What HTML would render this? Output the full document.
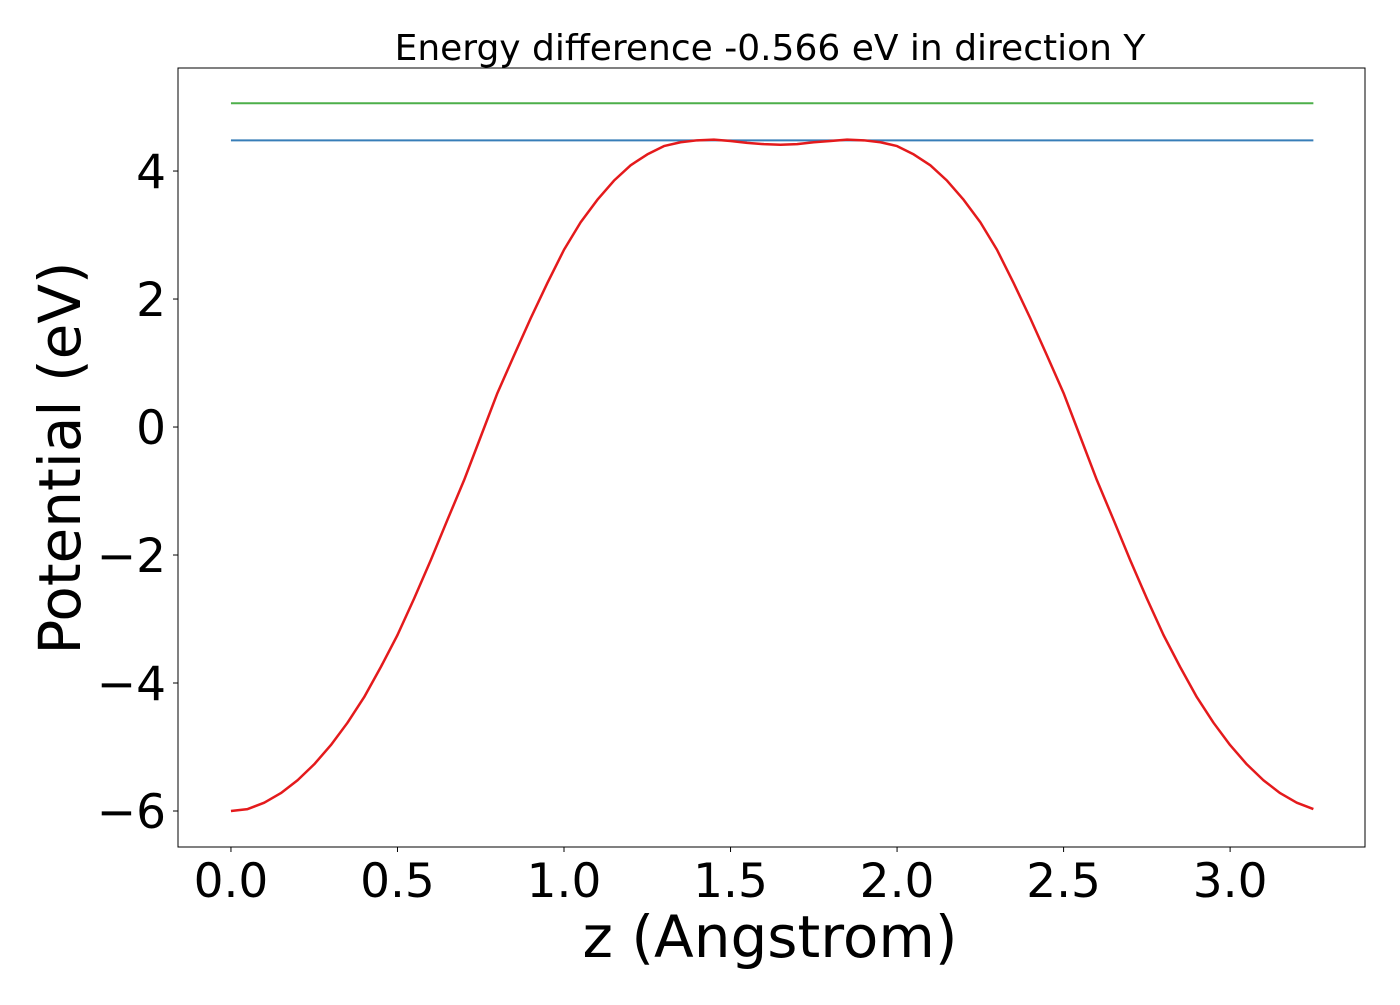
<!DOCTYPE html>
<html><head><meta charset="utf-8"><style>
html,body{margin:0;padding:0;background:#fff;}
svg text{font-family:"DejaVu Sans","Liberation Sans",sans-serif;fill:#000;}
</style></head><body>
<svg id="chart" width="1400" height="1000" xmlns="http://www.w3.org/2000/svg">
<rect x="0" y="0" width="1400" height="1000" fill="#fff"/>
<g id="marks"></g>
<g id="axes"></g>
<text x="770" y="60" font-size="36" text-anchor="middle">Energy difference -0.566 eV in direction Y</text>
<text x="770" y="957" font-size="58" text-anchor="middle">z (Angstrom)</text>
<text transform="translate(80,458) rotate(-90)" font-size="58" text-anchor="middle">Potential (eV)</text>
</svg>
<script>
const zValues = [0,0.05,0.1,0.15,0.2,0.25,0.3,0.35,0.4,0.45,0.5,0.55,0.6,0.65,0.7,0.75,0.8,0.85,0.9,0.95,1.0,1.05,1.1,1.15,1.2,1.25,1.3,1.35,1.4,1.45,1.5,1.55,1.6,1.65,1.7,1.75,1.8,1.85,1.9,1.95,2.0,2.05,2.1,2.15,2.2,2.25,2.3,2.35,2.4,2.45,2.5,2.55,2.6,2.65,2.7,2.75,2.8,2.85,2.9,2.95,3.0,3.05,3.1,3.15,3.2,3.25];
const potential = [-6.0,-5.97,-5.87,-5.72,-5.52,-5.27,-4.97,-4.62,-4.22,-3.75,-3.25,-2.68,-2.08,-1.45,-0.83,-0.15,0.53,1.12,1.70,2.25,2.77,3.2,3.55,3.85,4.09,4.26,4.39,4.45,4.48,4.49,4.47,4.44,4.42,4.41,4.42,4.45,4.47,4.49,4.48,4.45,4.39,4.26,4.09,3.85,3.55,3.2,2.77,2.25,1.70,1.12,0.53,-0.15,-0.83,-1.45,-2.08,-2.68,-3.25,-3.75,-4.22,-4.62,-4.97,-5.27,-5.52,-5.72,-5.87,-5.97,-6.0];
const greenLevel = 5.06;
const blueLevel = 4.48;
const xTicks = [0.0,0.5,1.0,1.5,2.0,2.5,3.0];
const xTickLabels = ["0.0","0.5","1.0","1.5","2.0","2.5","3.0"];
const yTicks = [-6,-4,-2,0,2,4];
const yTickLabels = ["\u22126","\u22124","\u22122","0","2","4"];

const L=178,R=1365,T=68,B=847;
const xmin=-0.159,xmax=3.405,ymin=-6.5625,ymax=5.61;
const sx=v=>L+(v-xmin)/(xmax-xmin)*(R-L);
const sy=v=>B-(v-ymin)/(ymax-ymin)*(B-T);
const NS="http://www.w3.org/2000/svg";
const marks=document.getElementById('marks'), axes=document.getElementById('axes');
function mk(tag,attrs,parent){const e=document.createElementNS(NS,tag);for(const k in attrs)e.setAttribute(k,attrs[k]);parent.appendChild(e);return e;}

const x0=sx(zValues[0]), x1=sx(zValues[zValues.length-1]);
const g=mk('line',{x1:x0,x2:x1,y1:sy(greenLevel),y2:sy(greenLevel),stroke:'#4daf4a','stroke-width':2},marks);


const b=mk('line',{x1:x0,x2:x1,y1:sy(blueLevel),y2:sy(blueLevel),stroke:'#377eb8','stroke-width':2},marks);


const p=mk('polyline',{points:zValues.map((z,i)=>sx(z)+','+sy(potential[i])).join(' '),fill:'none',stroke:'#e41a1c','stroke-width':2.5,'stroke-linejoin':'round'},marks);



const frame=mk('rect',{x:L,y:T,width:R-L,height:B-T,fill:'none',stroke:'#000','stroke-width':1},axes);


xTicks.forEach((v,i)=>{
  const t=mk('line',{x1:sx(v),x2:sx(v),y1:B,y2:B+5,stroke:'#000','stroke-width':1},axes);
  
  
  const l=mk('text',{x:sx(v),y:B+50,'font-size':47,'text-anchor':'middle'},axes);
  l.textContent=xTickLabels[i];
  
  
});
yTicks.forEach((v,i)=>{
  const t=mk('line',{x1:L-5,x2:L,y1:sy(v),y2:sy(v),stroke:'#000','stroke-width':1},axes);
  
  
  const l=mk('text',{x:L-12,y:sy(v)+17,'font-size':47,'text-anchor':'end'},axes);
  l.textContent=yTickLabels[i];
  
  
});
</script>
</body></html>
